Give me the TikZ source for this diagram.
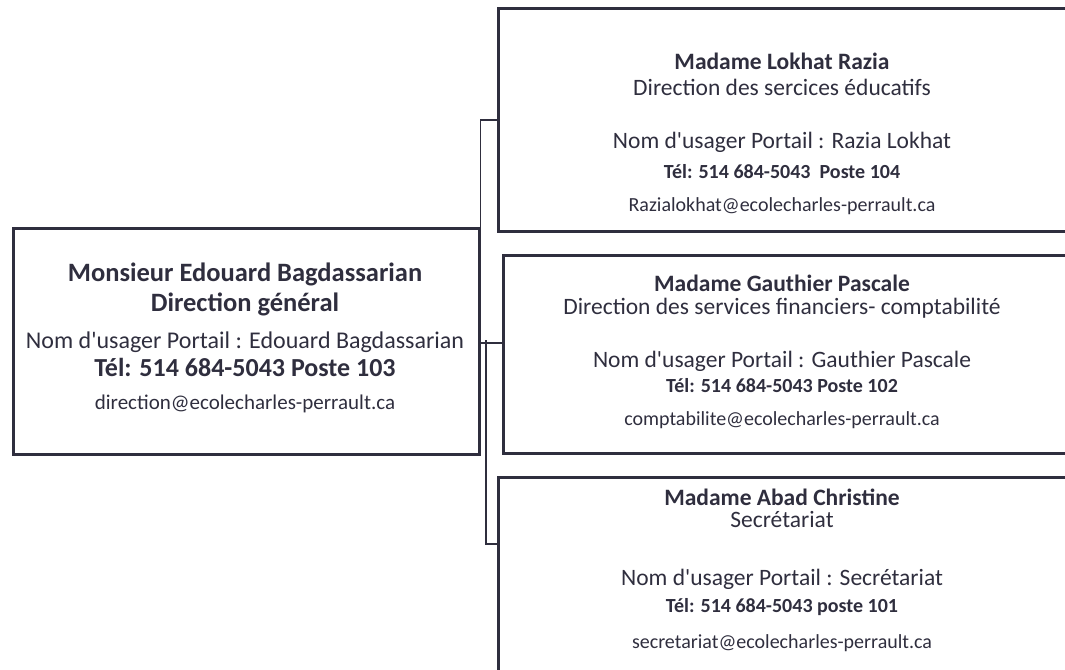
\documentclass[tikz,border=0pt]{standalone}
\usepackage{fontspec}
\setmainfont{Carlito}
\definecolor{ink}{RGB}{47,46,62}
\tikzset{
  card/.style={draw=ink,line width=2.6pt,anchor=north west,inner sep=0pt},
  link/.style={draw=ink,line width=1.4pt},
  txt/.style={text=ink,anchor=base,inner sep=0pt},
}
\newcommand{\fs}[1]{\fontsize{#1}{#1}\selectfont}
\newcommand{\q}{\textquotesingle}
\begin{document}
\begin{tikzpicture}[x=1pt,y=-1pt]
\useasboundingbox (0,0) rectangle (1065,669);
\clip (0,0) rectangle (1065,669);
% cartes
\node[card,minimum width=466pt,minimum height=226pt] (dg) at (12,227) {};
\node[card,minimum width=580pt,minimum height=223pt] (edu) at (497,7) {};
\node[card,minimum width=580pt,minimum height=198pt] (fin) at (502,254) {};
\node[card,minimum width=590pt,minimum height=260pt] (sec) at (497,476) {};
% liens
\coordinate (jm) at (486,343);
\draw[link] (dg.north east) |- (edu.west);
\draw[link] (dg.east |- jm) -- (jm) -- (jm -| fin.west);
\draw[link] (jm) -- ++(0,-3);
\draw[link] (jm) |- ([yshift=-68pt]sec.north west);
% direction generale
\node[txt,font=\bfseries\fs{26.5}] (dg1) at (245,281) {Monsieur Edouard Bagdassarian};
\node[txt,font=\bfseries\fs{26.5}] (dg2) at (245,311) {Direction général};
\node[txt,font=\fs{24}] (dg3) at (245,348) {Nom d\q usager Portail : Edouard Bagdassarian};
\node[txt,font=\bfseries\fs{26}] (dg4) at (245,376) {Tél: 514 684-5043 Poste 103};
\node[txt,font=\fs{21}] (dg5) at (245,409) {direction@ecolecharles-perrault.ca};
% services educatifs
\node[txt,font=\bfseries\fs{23.5}] (edu1) at (782,70) {Madame Lokhat Razia};
\node[txt,font=\fs{23.5}] (edu2) at (782,95) {Direction des sercices éducatifs};
\node[txt,font=\fs{23.5}] (edu3) at (782,148) {Nom d\q usager Portail : Razia Lokhat};
\node[txt,font=\bfseries\fs{20}] (edu4) at (782,178) {Tél: 514 684-5043\ \ Poste 104};
\node[txt,font=\fs{20}] (edu5) at (782,211) {Razialokhat@ecolecharles-perrault.ca};
% services financiers
\node[txt,font=\bfseries\fs{23.5}] (fin1) at (782,291) {Madame Gauthier Pascale};
\node[txt,font=\fs{23.5}] (fin2) at (782,314) {Direction des services financiers- comptabilité};
\node[txt,font=\fs{23.5}] (fin3) at (782,367) {Nom d\q usager Portail : Gauthier Pascale};
\node[txt,font=\bfseries\fs{20}] (fin4) at (782,392) {Tél: 514 684-5043 Poste 102};
\node[txt,font=\fs{20}] (fin5) at (782,425) {comptabilite@ecolecharles-perrault.ca};
% secretariat
\node[txt,font=\bfseries\fs{23.5}] (sec1) at (782,505) {Madame Abad Christine};
\node[txt,font=\fs{23.5}] (sec2) at (782,527) {Secrétariat};
\node[txt,font=\fs{23.5}] (sec3) at (782,585) {Nom d\q usager Portail : Secrétariat};
\node[txt,font=\bfseries\fs{20}] (sec4) at (782,612) {Tél: 514 684-5043 poste 101};
\node[txt,font=\fs{20}] (sec5) at (782,648) {secretariat@ecolecharles-perrault.ca};
\end{tikzpicture}
\end{document}
